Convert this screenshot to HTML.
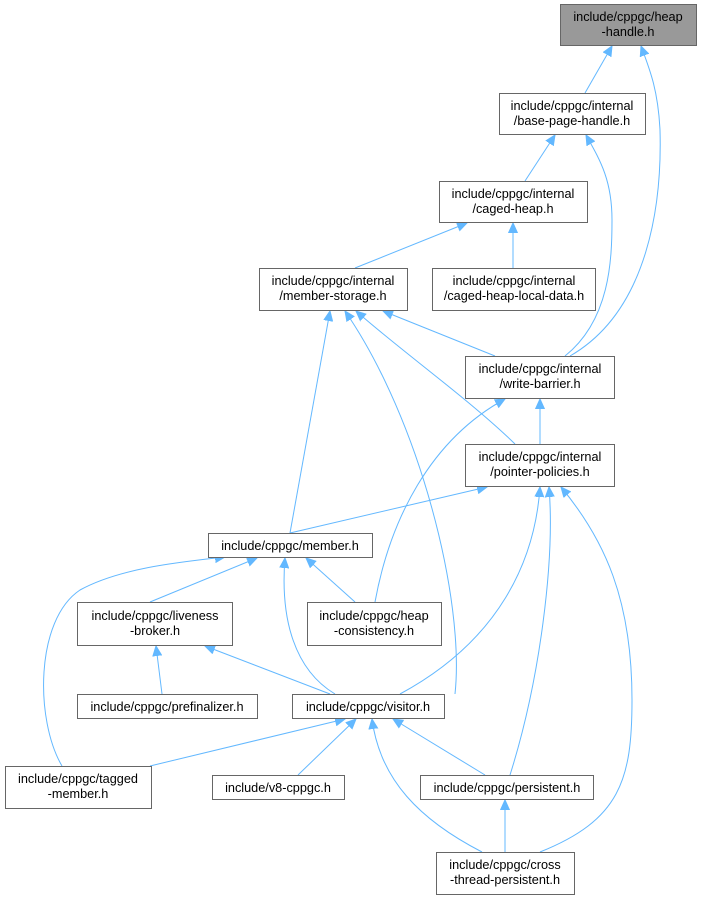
<!DOCTYPE html>
<html><head><meta charset="utf-8"><style>
body{margin:0;background:#fff}
svg text{font-family:"Liberation Sans",Arial,sans-serif;font-size:12.7px;fill:#000;text-anchor:middle}
</style></head><body>
<svg width="701" height="901" viewBox="0 0 701 901" xmlns="http://www.w3.org/2000/svg">
<defs><marker id="a" markerWidth="12" markerHeight="10" refX="10" refY="5" orient="auto" markerUnits="userSpaceOnUse"><path d="M0,0.5 L10,5 L0,9.5 z" fill="#63b8ff" stroke="#63b8ff"/></marker></defs>
<g fill="none" stroke="#63b8ff" stroke-width="1" marker-end="url(#a)">
<path d="M585,93 L612,46"/>
<path d="M570,356 C650,310 662,200 660,130 C658,90 650,70 641,46"/>
<path d="M525,181 L555,135"/>
<path d="M565,356 C610,320 612,260 612,220 C612,180 600,160 586,135"/>
<path d="M355,268 L467,223"/>
<path d="M513,268 L513,223"/>
<path d="M495,356 L383,311"/>
<path d="M515,444 C470,400 400,350 356,311"/>
<path d="M290,533 L330,311"/>
<path d="M455,694 C465,600 420,420 345,311"/>
<path d="M540,444 L540,399"/>
<path d="M375,602 C390,520 430,440 505,399"/>
<path d="M290,533 L487,487"/>
<path d="M400,694 C500,640 535,560 540,487"/>
<path d="M510,775 C540,680 555,560 549,487"/>
<path d="M540,852 C620,820 632,780 632,700 C632,600 605,540 561,487"/>
<path d="M150,602 L257,558"/>
<path d="M355,602 L306,558"/>
<path d="M335,694 C295,670 280,620 285,558"/>
<path d="M62,766 C35,720 35,620 80,590 C120,568 180,562 225,557"/>
<path d="M162,694 L156,646"/>
<path d="M330,694 L205,646"/>
<path d="M150,766 L345,719"/>
<path d="M298,775 L356,719"/>
<path d="M485,775 L393,719"/>
<path d="M482,852 C420,820 380,780 372,719"/>
<path d="M505,852 L505,800"/>
</g>
<g stroke="#666" stroke-width="1">
<rect x="560.5" y="4.5" width="136" height="41" fill="#999"/>
<rect x="499.5" y="93.5" width="146" height="41" fill="#fff"/>
<rect x="439.5" y="181.5" width="148" height="41" fill="#fff"/>
<rect x="259.5" y="268.5" width="148" height="42" fill="#fff"/>
<rect x="432.5" y="268.5" width="163" height="42" fill="#fff"/>
<rect x="465.5" y="356.5" width="149" height="42" fill="#fff"/>
<rect x="465.5" y="444.5" width="149" height="42" fill="#fff"/>
<rect x="208.5" y="533.5" width="164" height="24" fill="#fff"/>
<rect x="77.5" y="602.5" width="155" height="43" fill="#fff"/>
<rect x="307.5" y="602.5" width="134" height="43" fill="#fff"/>
<rect x="77.5" y="694.5" width="180" height="24" fill="#fff"/>
<rect x="292.5" y="694.5" width="152" height="24" fill="#fff"/>
<rect x="5.5" y="766.5" width="146" height="42" fill="#fff"/>
<rect x="212.5" y="775.5" width="132" height="24" fill="#fff"/>
<rect x="420.5" y="775.5" width="173" height="24" fill="#fff"/>
<rect x="436.5" y="852.5" width="138" height="42" fill="#fff"/>
</g>
<text x="628" y="21">include/cppgc/heap</text><text x="628" y="36">-handle.h</text>
<text x="572" y="110">include/cppgc/internal</text><text x="572" y="125">/base-page-handle.h</text>
<text x="513" y="198">include/cppgc/internal</text><text x="513" y="213">/caged-heap.h</text>
<text x="333" y="285">include/cppgc/internal</text><text x="333" y="300">/member-storage.h</text>
<text x="514" y="285">include/cppgc/internal</text><text x="514" y="300">/caged-heap-local-data.h</text>
<text x="540" y="373">include/cppgc/internal</text><text x="540" y="388">/write-barrier.h</text>
<text x="540" y="461">include/cppgc/internal</text><text x="540" y="476">/pointer-policies.h</text>
<text x="290" y="550">include/cppgc/member.h</text>
<text x="155" y="620">include/cppgc/liveness</text><text x="155" y="635">-broker.h</text>
<text x="374" y="620">include/cppgc/heap</text><text x="374" y="635">-consistency.h</text>
<text x="167" y="711">include/cppgc/prefinalizer.h</text>
<text x="368" y="711">include/cppgc/visitor.h</text>
<text x="78" y="783">include/cppgc/tagged</text><text x="78" y="798">-member.h</text>
<text x="278" y="792">include/v8-cppgc.h</text>
<text x="507" y="792">include/cppgc/persistent.h</text>
<text x="505" y="869">include/cppgc/cross</text><text x="505" y="884">-thread-persistent.h</text>
</svg>
</body></html>
